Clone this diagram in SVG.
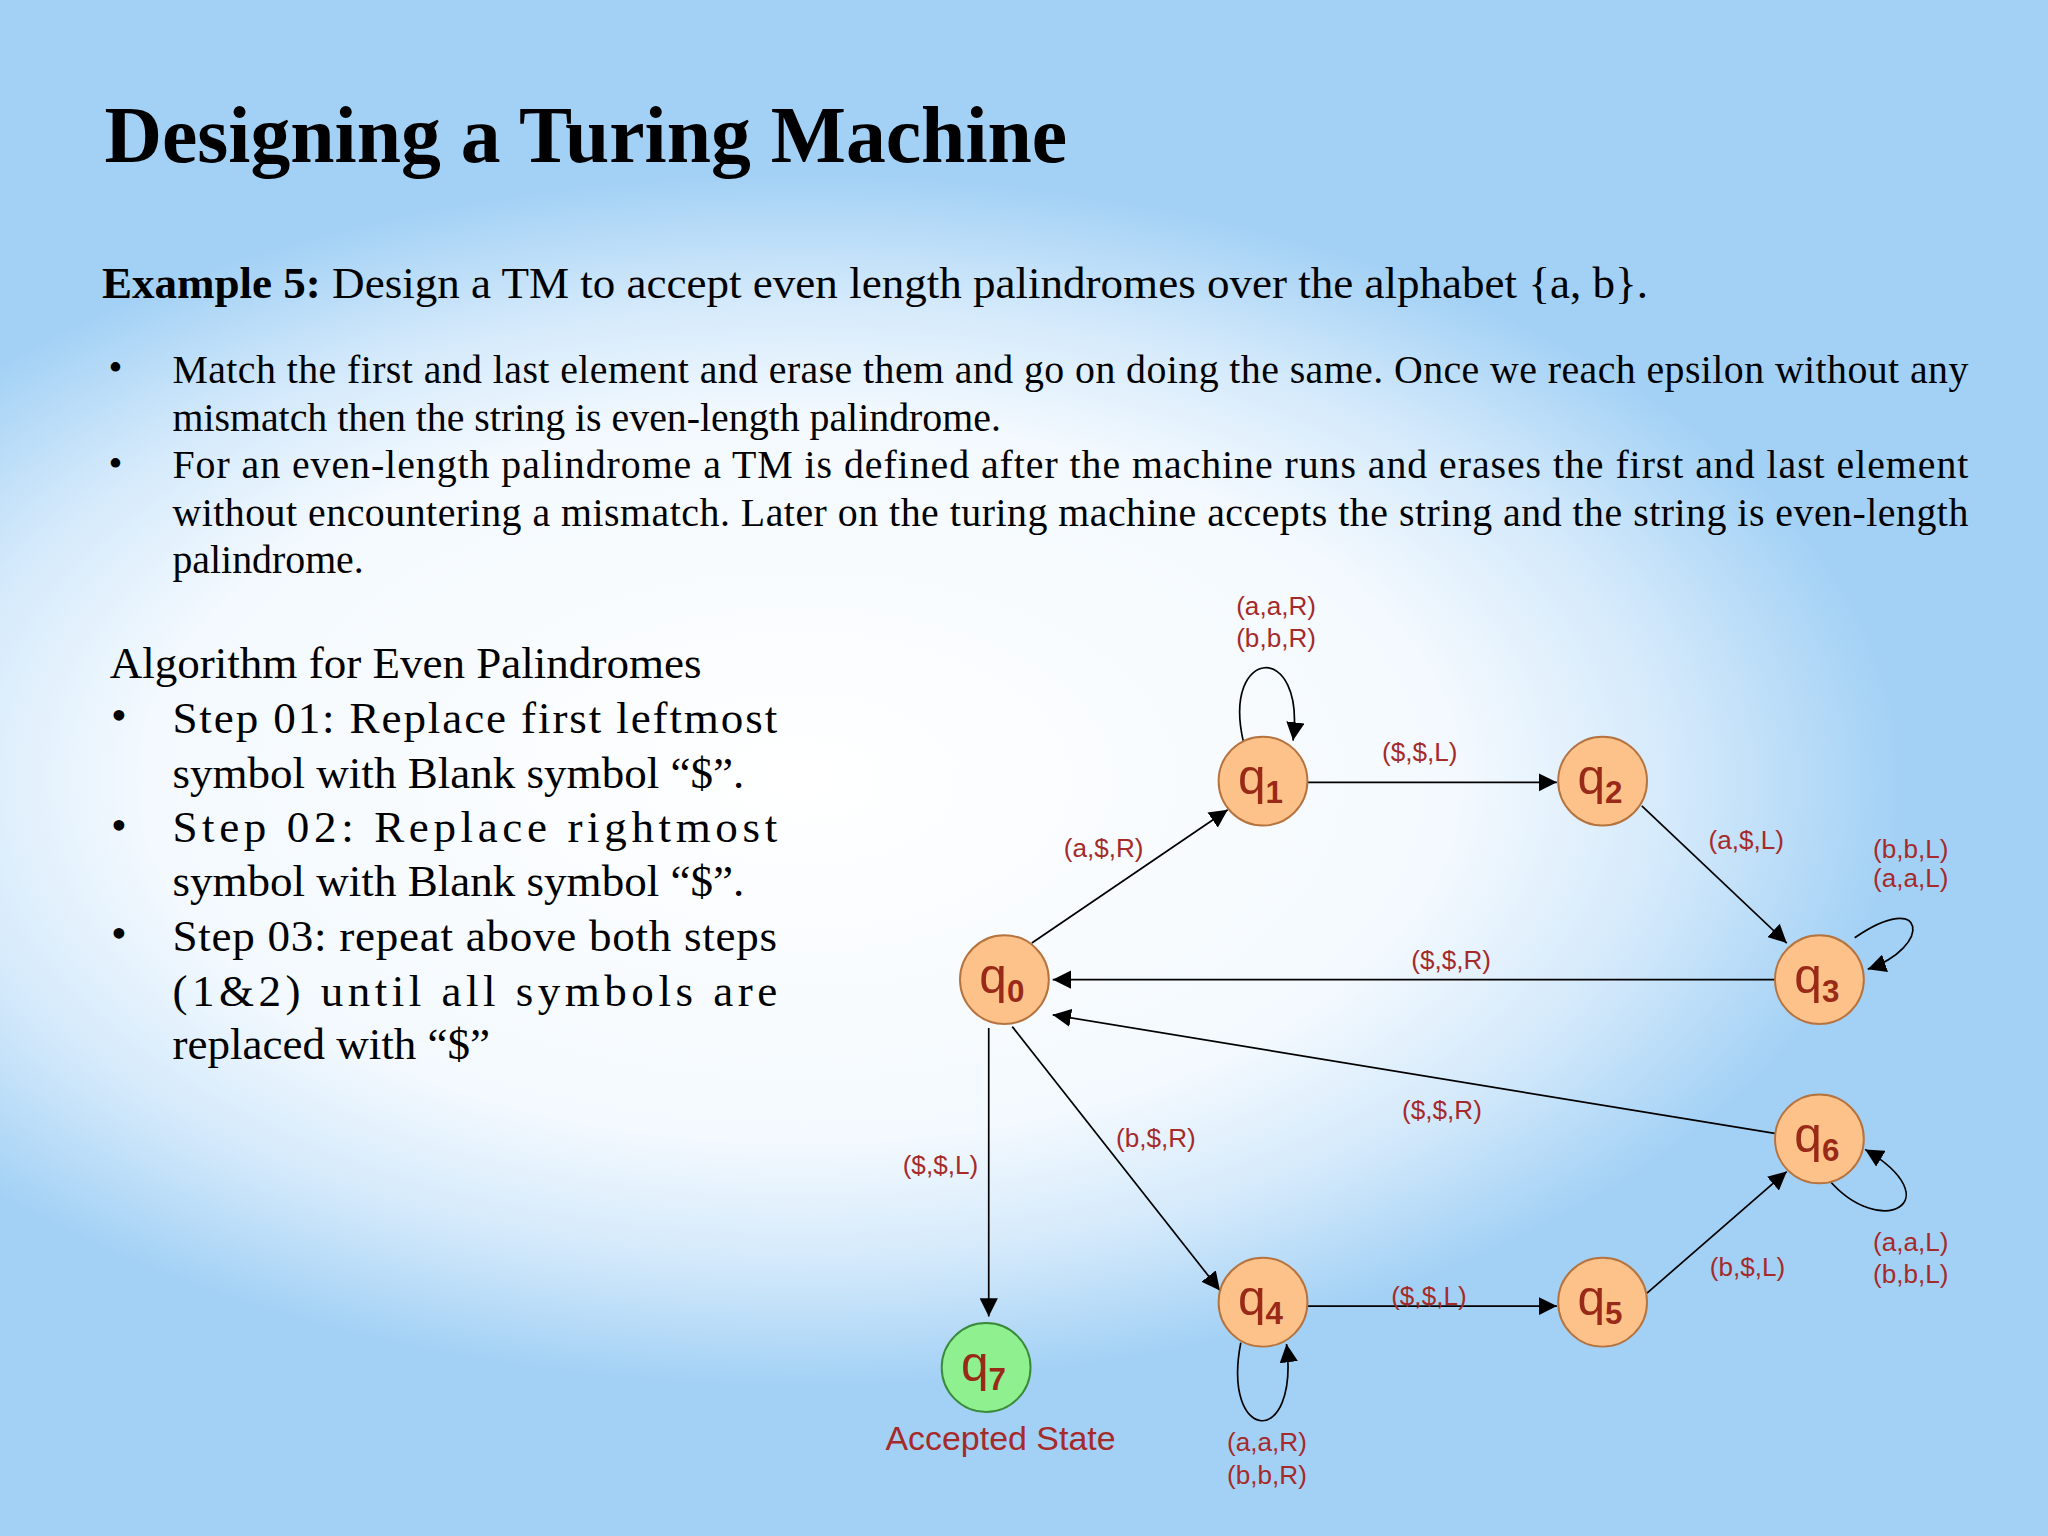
<svg xmlns="http://www.w3.org/2000/svg" width="2048" height="1536" viewBox="0 0 2048 1536">
<defs>
<radialGradient id="bg" cx="800" cy="780" r="1100" gradientUnits="userSpaceOnUse" gradientTransform="translate(800 780) scale(1 0.55) translate(-800 -780)">
<stop offset="0" stop-color="#ffffff"/><stop offset="0.6" stop-color="#f3f9fe"/><stop offset="0.8" stop-color="#d3e9fb"/><stop offset="1" stop-color="#a3d1f5"/>
</radialGradient>
<marker id="ah" viewBox="0 0 10 10" refX="10" refY="5" markerWidth="14" markerHeight="14" markerUnits="userSpaceOnUse" orient="auto"><path d="M0,0 L10,5 L0,10 z" fill="#000"/></marker>
<style>
.t{font-family:"Liberation Serif",serif;fill:#000}
.n circle{fill:#fdc28a;stroke:#b5733f;stroke-width:1.5}
.n text{font-family:"Liberation Sans",sans-serif;font-size:38px;fill:#9a2a18;text-anchor:middle}
.n tspan{font-size:24px;font-weight:bold}
.e path{fill:none;stroke:#000;stroke-width:1.3;marker-end:url(#ah)}
.l{font-family:"Liberation Sans",sans-serif;font-size:20px;fill:#a52a2a;text-anchor:middle}
</style>
</defs>
<rect width="2048" height="1536" fill="url(#bg)"/>
<g transform="scale(1.30612)">
<text class="t" x="80" y="124" font-size="61" font-weight="bold">Designing a Turing Machine</text>
<text class="t" x="78" y="228" font-size="34.5"><tspan font-weight="bold">Example 5:</tspan> Design a TM to accept even length palindromes over the alphabet {a, b}.</text>
<g class="t" font-size="30.5">
<text x="83" y="292">•</text>
<text x="132" y="293" textLength="1375" lengthAdjust="spacing">Match the first and last element and erase them and go on doing the same. Once we reach epsilon without any</text>
<text x="132" y="330">mismatch then the string is even-length palindrome.</text>
<text x="83" y="365">•</text>
<text x="132" y="366" textLength="1375" lengthAdjust="spacing">For an even-length palindrome a TM is defined after the machine runs and erases the first and last element</text>
<text x="132" y="403" textLength="1375" lengthAdjust="spacing">without encountering a mismatch. Later on the turing machine accepts the string and the string is even-length</text>
<text x="132" y="439">palindrome.</text>
</g>
<g class="t" font-size="34.5">
<text x="84" y="519">Algorithm for Even Palindromes</text>
<text x="85" y="559">•</text>
<text x="132" y="561" textLength="463" lengthAdjust="spacing">Step 01: Replace first leftmost</text>
<text x="132" y="603">symbol  with Blank symbol “$”.</text>
<text x="85" y="643">•</text>
<text x="132" y="645" textLength="463" lengthAdjust="spacing">Step 02: Replace rightmost</text>
<text x="132" y="686">symbol  with Blank symbol “$”.</text>
<text x="85" y="726">•</text>
<text x="132" y="728" textLength="463" lengthAdjust="spacing">Step 03: repeat above both steps</text>
<text x="132" y="770" textLength="463" lengthAdjust="spacing">(1&amp;2) until all symbols are</text>
<text x="132" y="811">replaced with “$”</text>
</g>
<g id="connectors" class="e">
<path d="M790,722 L940,620"/>
<path d="M1001,599 L1192,599"/>
<path d="M1257,617 L1368,722"/>
<path d="M1420,718 C1475,680 1480,725 1430,742"/>
<path d="M1360,750 L806,750"/>
<path d="M1360,868 L806,777"/>
<path d="M775,786 L934,988"/>
<path d="M757,787 L757,1008"/>
<path d="M1001,1000 L1192,1000"/>
<path d="M1261,990 L1368,897"/>
<path d="M1400,903 C1440,950 1495,920 1428,880"/>
<path d="M952,568 C935,495 1000,490 990,567"/>
<path d="M950,1028 C935,1105 995,1110 985,1029"/>
</g>
<g id="edge-labels">
<text class="l" x="845" y="656">(a,$,R)</text>
<text class="l" x="1087" y="583">($,$,L)</text>
<text class="l" x="1337" y="650">(a,$,L)</text>
<text class="l" x="1463" y="657">(b,b,L)</text>
<text class="l" x="1463" y="679">(a,a,L)</text>
<text class="l" x="1111" y="742">($,$,R)</text>
<text class="l" x="1104" y="857">($,$,R)</text>
<text class="l" x="885" y="878">(b,$,R)</text>
<text class="l" x="720" y="899">($,$,L)</text>
<text class="l" x="1094" y="999">($,$,L)</text>
<text class="l" x="1338" y="977">(b,$,L)</text>
<text class="l" x="1463" y="958">(a,a,L)</text>
<text class="l" x="1463" y="982">(b,b,L)</text>
<text class="l" x="977" y="471">(a,a,R)</text>
<text class="l" x="977" y="495">(b,b,R)</text>
<text class="l" x="970" y="1111">(a,a,R)</text>
<text class="l" x="970" y="1136">(b,b,R)</text>
</g>
<g id="q0" class="n"><circle cx="769" cy="750" r="34"/><text x="767" y="760">q<tspan dy="7">0</tspan></text></g>
<g id="q1" class="n"><circle cx="967" cy="598" r="34"/><text x="965" y="608">q<tspan dy="7">1</tspan></text></g>
<g id="q2" class="n"><circle cx="1227" cy="598" r="34"/><text x="1225" y="608">q<tspan dy="7">2</tspan></text></g>
<g id="q3" class="n"><circle cx="1393" cy="750" r="34"/><text x="1391" y="760">q<tspan dy="7">3</tspan></text></g>
<g id="q6" class="n"><circle cx="1393" cy="872" r="34"/><text x="1391" y="882">q<tspan dy="7">6</tspan></text></g>
<g id="q4" class="n"><circle cx="967" cy="997" r="34"/><text x="965" y="1007">q<tspan dy="7">4</tspan></text></g>
<g id="q5" class="n"><circle cx="1227" cy="997" r="34"/><text x="1225" y="1007">q<tspan dy="7">5</tspan></text></g>
<g id="q7" class="n"><circle cx="755" cy="1047" r="34" style="fill:#8ef08e;stroke:#3a8a3a"/><text x="753" y="1057">q<tspan dy="7">7</tspan></text><text x="766" y="1110" style="font-size:26px;fill:#a52a2a">Accepted State</text></g>
</g>
</svg>
